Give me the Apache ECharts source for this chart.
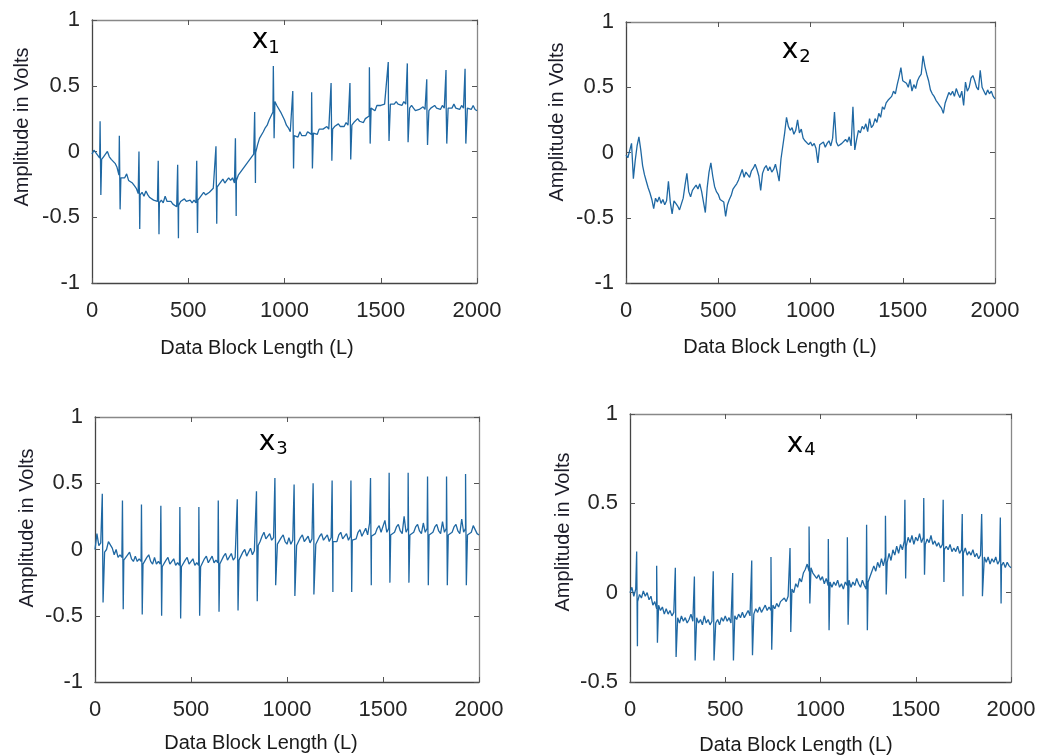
<!DOCTYPE html>
<html>
<head>
<meta charset="utf-8">
<script src="https://cdn.jsdelivr.net/npm/echarts@6/dist/echarts.min.js"></script>
<style>html,body{margin:0;padding:0;background:#fff}#c{width:1042px;height:755px}</style>
</head>
<body>
<div id="c"></div>
<script>
// ---- data (sample step 10 along Data Block Length) ----
const sampleStep = 10;
const xTicks = [0, 500, 1000, 1500, 2000];

const x1Base = [
 -0.02,0.01,0.0,-0.03,-0.05,-0.06,-0.04,-0.02,0.0,-0.04,
 -0.06,-0.05,-0.09,-0.12,-0.18,-0.2,-0.19,-0.2,-0.17,-0.22,
 -0.21,-0.24,-0.26,-0.28,-0.32,-0.33,-0.31,-0.34,-0.3,-0.33,
 -0.35,-0.34,-0.37,-0.36,-0.38,-0.39,-0.37,-0.39,-0.34,-0.38,
 -0.39,-0.38,-0.4,-0.39,-0.42,-0.41,-0.38,-0.39,-0.36,-0.38,
 -0.38,-0.37,-0.39,-0.37,-0.39,-0.37,-0.35,-0.36,-0.31,-0.33,
 -0.32,-0.31,-0.3,-0.28,-0.28,-0.27,-0.25,-0.26,-0.21,-0.24,
 -0.22,-0.2,-0.22,-0.2,-0.24,-0.22,-0.18,-0.17,-0.14,-0.13,
 -0.1,-0.11,-0.06,-0.05,-0.02,-0.01,0.05,0.1,0.09,0.15,
 0.18,0.2,0.24,0.27,0.3,0.38,0.35,0.36,0.3,0.27,
 0.24,0.2,0.18,0.15,0.14,0.12,0.13,0.11,0.15,0.12,
 0.13,0.12,0.15,0.14,0.13,0.14,0.15,0.13,0.17,0.16,
 0.17,0.16,0.19,0.17,0.18,0.17,0.19,0.18,0.21,0.19,
 0.2,0.19,0.22,0.2,0.21,0.2,0.22,0.21,0.25,0.23,
 0.23,0.22,0.25,0.24,0.27,0.33,0.32,0.31,0.35,0.34,
 0.35,0.34,0.36,0.35,0.37,0.36,0.35,0.36,0.38,0.36,
 0.36,0.35,0.38,0.36,0.34,0.33,0.35,0.33,0.31,0.3,
 0.32,0.31,0.34,0.32,0.3,0.31,0.33,0.32,0.35,0.33,
 0.33,0.32,0.35,0.33,0.32,0.33,0.34,0.33,0.36,0.33,
 0.33,0.32,0.35,0.33,0.3,0.33,0.34,0.32,0.35,0.32,
 0.31
];
const x1BeatPos = [42,142,244,344,445,544,644,745,845,942,1043,1141,1242,1340,1441,1539,1638,1739,1839,1938];
const x1Peak = [0.23,0.12,0.0,-0.07,-0.1,-0.07,0.04,0.1,0.3,0.65,0.46,0.45,0.52,0.52,0.64,0.68,0.67,0.55,0.62,0.63];
const x1Trough = [-0.33,-0.44,-0.59,-0.63,-0.66,-0.62,-0.55,-0.49,-0.24,0.1,-0.13,-0.13,-0.07,-0.06,0.06,0.08,0.07,0.05,0.06,0.06];

const x2Base = [
 -0.02,-0.04,-0.03,0.07,-0.2,-0.06,0.05,0.12,0.02,-0.1,
 -0.17,-0.22,-0.27,-0.31,-0.36,-0.43,-0.35,-0.38,-0.34,-0.39,
 -0.36,-0.4,-0.37,-0.22,-0.38,-0.47,-0.37,-0.39,-0.41,-0.44,
 -0.43,-0.35,-0.25,-0.16,-0.3,-0.34,-0.29,-0.27,-0.25,-0.28,
 -0.24,-0.3,-0.31,-0.46,-0.27,-0.15,-0.08,-0.18,-0.26,-0.3,
 -0.32,-0.36,-0.35,-0.38,-0.49,-0.4,-0.36,-0.33,-0.28,-0.26,
 -0.24,-0.21,-0.17,-0.13,-0.19,-0.15,-0.16,-0.19,-0.14,-0.12,
 -0.09,-0.13,-0.18,-0.29,-0.16,-0.12,-0.1,-0.14,-0.11,-0.15,
 -0.13,-0.09,-0.15,-0.22,-0.05,-0.06,0.15,0.27,0.2,0.17,
 0.19,0.14,0.17,0.25,0.15,0.18,0.11,0.09,0.1,0.06,
 0.08,0.05,0.07,0.03,-0.08,0.06,0.05,0.08,0.04,0.07,
 0.09,0.05,0.11,0.31,0.08,0.05,0.04,0.07,0.06,0.1,
 0.08,0.12,0.05,0.35,0.02,0.1,0.17,0.15,0.2,0.18,
 0.22,0.16,0.26,0.19,0.21,0.26,0.23,0.3,0.27,0.35,
 0.33,0.38,0.4,0.39,0.43,0.47,0.45,0.52,0.58,0.65,
 0.55,0.56,0.53,0.5,0.56,0.47,0.52,0.49,0.55,0.58,
 0.6,0.74,0.66,0.6,0.55,0.48,0.45,0.43,0.4,0.38,
 0.36,0.34,0.3,0.38,0.42,0.46,0.44,0.47,0.43,0.49,
 0.45,0.42,0.47,0.36,0.54,0.47,0.5,0.57,0.59,0.55,
 0.5,0.48,0.63,0.5,0.47,0.44,0.48,0.45,0.47,0.43,
 0.41
];
const x2BeatPos = [];
const x2Peak = [];
const x2Trough = [];

const x3Base = [
 0.0,0.12,0.03,0.05,0.0,-0.02,0.0,0.06,0.07,0.01,
 -0.04,0.0,-0.06,-0.04,-0.06,-0.08,-0.09,-0.04,-0.02,-0.07,
 -0.09,-0.05,-0.09,-0.07,-0.09,-0.11,-0.11,-0.06,-0.04,-0.09,
 -0.11,-0.06,-0.11,-0.09,-0.11,-0.13,-0.13,-0.08,-0.06,-0.11,
 -0.12,-0.07,-0.12,-0.1,-0.12,-0.13,-0.13,-0.08,-0.06,-0.11,
 -0.12,-0.07,-0.12,-0.1,-0.12,-0.13,-0.12,-0.07,-0.05,-0.1,
 -0.11,-0.05,-0.1,-0.08,-0.1,-0.11,-0.1,-0.05,-0.03,-0.08,
 -0.09,-0.03,-0.08,-0.06,-0.07,-0.08,-0.07,-0.02,0.0,-0.05,
 -0.05,0.01,-0.04,-0.01,-0.02,0.03,0.06,0.1,0.13,0.08,
 0.07,0.12,0.07,0.09,0.06,0.04,0.04,0.09,0.11,0.06,
 0.04,0.09,0.04,0.07,0.04,0.03,0.04,0.09,0.11,0.06,
 0.05,0.1,0.05,0.08,0.05,0.04,0.05,0.1,0.12,0.07,
 0.06,0.11,0.06,0.09,0.06,0.05,0.06,0.11,0.13,0.08,
 0.07,0.12,0.07,0.1,0.07,0.07,0.08,0.13,0.15,0.1,
 0.1,0.16,0.11,0.2,0.1,0.1,0.12,0.16,0.18,0.13,
 0.12,0.22,0.13,0.16,0.11,0.12,0.13,0.17,0.19,0.14,
 0.12,0.25,0.13,0.16,0.11,0.12,0.13,0.17,0.19,0.14,
 0.12,0.2,0.13,0.16,0.11,0.12,0.13,0.17,0.19,0.14,
 0.12,0.21,0.13,0.16,0.11,0.12,0.13,0.17,0.19,0.14,
 0.12,0.23,0.13,0.16,0.11,0.12,0.13,0.18,0.15,0.12,
 0.11
];
const x3BeatPos = [38,143,242,343,442,541,642,741,841,937,1037,1136,1235,1333,1435,1532,1631,1732,1831,1930];
const x3Peak = [0.42,0.37,0.34,0.33,0.32,0.32,0.37,0.38,0.44,0.54,0.49,0.5,0.52,0.52,0.54,0.58,0.58,0.55,0.55,0.57];
const x3Trough = [-0.4,-0.45,-0.49,-0.5,-0.52,-0.5,-0.47,-0.46,-0.39,-0.27,-0.35,-0.34,-0.32,-0.32,-0.27,-0.25,-0.25,-0.27,-0.27,-0.27];

const x4Base = [
 0.0,0.03,-0.02,0.02,-0.05,-0.01,-0.03,0.01,-0.02,0.0,
 -0.04,-0.02,-0.07,-0.05,-0.09,-0.07,-0.1,-0.08,-0.12,-0.09,
 -0.12,-0.1,-0.13,-0.11,-0.16,-0.14,-0.17,-0.13,-0.16,-0.14,
 -0.17,-0.15,-0.12,-0.16,-0.18,-0.14,-0.17,-0.15,-0.18,-0.13,
 -0.17,-0.15,-0.18,-0.16,-0.2,-0.17,-0.15,-0.18,-0.14,-0.16,
 -0.13,-0.16,-0.14,-0.17,-0.15,-0.13,-0.15,-0.12,-0.14,-0.11,
 -0.14,-0.12,-0.1,-0.13,-0.11,-0.12,-0.09,-0.11,-0.08,-0.11,
 -0.09,-0.07,-0.1,-0.08,-0.1,-0.07,-0.09,-0.06,-0.08,-0.05,
 -0.06,-0.03,-0.05,-0.02,-0.03,0.02,0.0,0.05,0.03,0.08,
 0.06,0.11,0.13,0.16,0.12,0.14,0.11,0.12,0.08,0.1,
 0.07,0.09,0.05,0.08,0.04,0.06,0.03,0.06,0.04,0.07,
 0.03,0.05,0.02,0.06,0.04,0.07,0.03,0.06,0.04,0.08,
 0.05,0.03,0.07,0.04,0.02,0.06,0.09,0.12,0.15,0.12,
 0.17,0.14,0.19,0.15,0.2,0.17,0.22,0.18,0.24,0.21,
 0.26,0.22,0.27,0.24,0.29,0.26,0.31,0.28,0.32,0.27,
 0.31,0.29,0.33,0.28,0.31,0.27,0.3,0.28,0.32,0.27,
 0.29,0.26,0.28,0.25,0.27,0.24,0.26,0.24,0.27,0.23,
 0.25,0.23,0.26,0.22,0.24,0.22,0.25,0.21,0.23,0.21,
 0.24,0.2,0.22,0.19,0.21,0.18,0.2,0.17,0.2,0.16,
 0.19,0.17,0.2,0.16,0.18,0.15,0.17,0.14,0.17,0.15,
 0.14
];
const x4BeatPos = [35,140,238,338,437,539,639,740,840,940,1041,1141,1242,1341,1443,1542,1644,1744,1846,1944];
const x4Peak = [0.23,0.15,0.14,0.09,0.12,0.11,0.18,0.2,0.25,0.37,0.3,0.31,0.38,0.43,0.52,0.53,0.52,0.44,0.44,0.42];
const x4Trough = [-0.3,-0.28,-0.36,-0.38,-0.38,-0.38,-0.35,-0.32,-0.22,-0.06,-0.21,-0.18,-0.21,-0.01,0.08,0.1,0.06,-0.02,-0.02,-0.06];

const panelTitles = ['1', '2', '3', '4'];
const xAxisTitle = 'Data Block Length (L)';
const yAxisTitle = 'Amplitude in Volts';

// ---- build series points ----
function buildPoints(base, pos, peak, trough) {
  const pts = base.map((v, i) => [i * sampleStep, v]);
  for (let k = 0; k < pos.length; k++) {
    pts.push([pos[k], peak[k]]);
    pts.push([pos[k] + 4, trough[k]]);
  }
  pts.sort((a, b) => a[0] - b[0]);
  return pts;
}
const seriesData = [
  buildPoints(x1Base, x1BeatPos, x1Peak, x1Trough),
  buildPoints(x2Base, x2BeatPos, x2Peak, x2Trough),
  buildPoints(x3Base, x3BeatPos, x3Peak, x3Trough),
  buildPoints(x4Base, x4BeatPos, x4Peak, x4Trough)
];

// ---- layout ----
const panels = [
  {grid:{left:92, top:20, width:385, height:263}, yMin:-1, yMax:1,
   title:{x:260, y:41, sx:274, sy:48}, xt:{x:257, y:348}, yt:{x:22, y:127}},
  {grid:{left:626, top:22, width:369, height:261}, yMin:-1, yMax:1,
   title:{x:790, y:51, sx:805, sy:57}, xt:{x:780, y:347}, yt:{x:557, y:122}},
  {grid:{left:95, top:417, width:384, height:265}, yMin:-1, yMax:1,
   title:{x:267, y:443, sx:282, sy:449}, xt:{x:261, y:743}, yt:{x:27, y:528}},
  {grid:{left:630, top:414, width:381, height:268}, yMin:-0.5, yMax:1,
   title:{x:795, y:445, sx:810, sy:450}, xt:{x:796, y:745}, yt:{x:563, y:532}}
];

const labelFont = '"Liberation Sans", Arial, sans-serif';
const plainNum = v => String(v);
const grids = [], xAxes = [], yAxes = [], series = [], graphics = [];
panels.forEach((p, i) => {
  grids.push(Object.assign({show:false}, p.grid));
  const common = {
    gridIndex: i, type: 'value', splitLine: {show: false},
    axisTick: {show: true, inside: true, length: 5, lineStyle: {color: '#555', width: 1}}
  };
  xAxes.push(Object.assign({}, common, {
    position: 'bottom', min: xTicks[0], max: xTicks[xTicks.length - 1], interval: xTicks[1] - xTicks[0],
    axisLine: {show: true, onZero: false, lineStyle: {color: '#444', width: 1.3}},
    axisLabel: {fontSize: 22, color: '#262626', margin: 17, fontFamily: labelFont, formatter: plainNum}
  }));
  xAxes.push(Object.assign({}, common, {
    position: 'top', min: xTicks[0], max: xTicks[xTicks.length - 1], interval: xTicks[1] - xTicks[0],
    axisLine: {show: true, onZero: false, lineStyle: {color: '#888', width: 1.3}},
    axisLabel: {show: false}
  }));
  yAxes.push(Object.assign({}, common, {
    position: 'left', min: p.yMin, max: p.yMax, interval: 0.5,
    axisLine: {show: true, onZero: false, lineStyle: {color: '#444', width: 1.3}},
    axisLabel: {fontSize: 22, color: '#262626', margin: 12, fontFamily: labelFont, formatter: plainNum}
  }));
  yAxes.push(Object.assign({}, common, {
    position: 'right', min: p.yMin, max: p.yMax, interval: 0.5,
    axisLine: {show: true, onZero: false, lineStyle: {color: '#888', width: 1.3}},
    axisLabel: {show: false}
  }));
  series.push({
    type: 'line', xAxisIndex: 2 * i, yAxisIndex: 2 * i, data: seriesData[i],
    showSymbol: false, symbol: 'none', smooth: false,
    lineStyle: {color: '#1f68a3', width: 1.3}, itemStyle: {color: '#1f68a3'}
  });
  graphics.push({type:'text', x:p.title.x, y:p.title.y,
    style:{text:'x', fontSize:28, fontFamily:'"DejaVu Sans", sans-serif', fill:'#000', align:'center', verticalAlign:'middle'}});
  graphics.push({type:'text', x:p.title.sx, y:p.title.sy,
    style:{text:panelTitles[i], fontSize:18, fontFamily:'"DejaVu Sans", sans-serif', fill:'#000', align:'center', verticalAlign:'middle'}});
  graphics.push({type:'text', x:p.xt.x, y:p.xt.y,
    style:{text:xAxisTitle, fontSize:20, fontFamily:labelFont, fill:'#1a1a1a', align:'center', verticalAlign:'middle'}});
  graphics.push({type:'text', x:p.yt.x, y:p.yt.y, rotation:Math.PI/2,
    style:{text:yAxisTitle, fontSize:20, fontFamily:labelFont, fill:'#1c1c28', align:'center', verticalAlign:'middle'}});
});

const chart = echarts.init(document.getElementById('c'), null, {renderer: 'canvas'});
chart.setOption({
  animation: false,
  backgroundColor: '#fff',
  grid: grids, xAxis: xAxes, yAxis: yAxes, series: series, graphic: graphics
});
</script>
</body>
</html>
